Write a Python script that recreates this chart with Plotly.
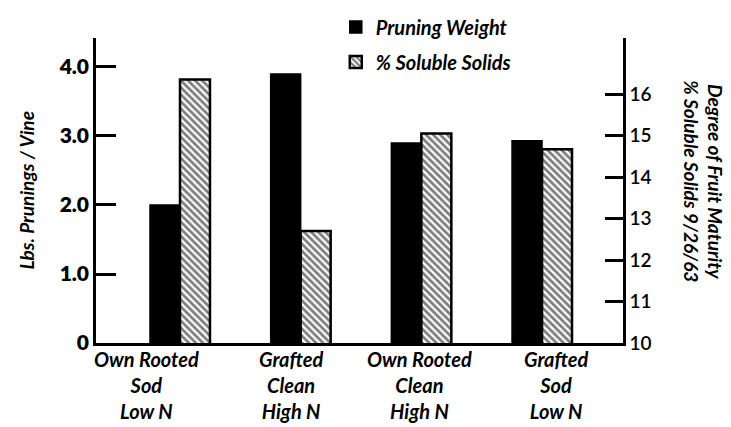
import plotly.graph_objects as go

categories = ["Own Rooted<br>Sod<br>Low N", "Grafted<br>Clean<br>High N",
              "Own Rooted<br>Clean<br>High N", "Grafted<br>Sod<br>Low N"]
pruning_weight = [2.0, 3.9, 2.9, 2.93]
soluble_solids = [16.35, 12.7, 15.05, 14.67]
left_ticks = [0, 1, 2, 3, 4]
left_ticklabels = ["0", "1.0", "2.0", "3.0", "4.0"]
right_ticks = [10, 11, 12, 13, 14, 15, 16]

FONT = "Lato"
cat_idx = list(range(len(categories)))

fig = go.Figure()
fig.add_trace(go.Bar(
    x=cat_idx, y=pruning_weight, name="Pruning Weight",
    marker=dict(color="black", line=dict(color="black", width=1.5)),
    offsetgroup="1", yaxis="y", legendgroup="a",
))
fig.add_trace(go.Bar(
    x=cat_idx, y=soluble_solids, name="% Soluble Solids",
    marker=dict(color="white", line=dict(color="black", width=2.5),
                pattern=dict(shape="\\", fgcolor="black", bgcolor="white",
                             size=5, solidity=0.55)),
    offsetgroup="2", yaxis="y2", legendgroup="b",
))

label_shifts = [-33, -10, -2, 14]
annotations = []
for i, (lab, sh) in enumerate(zip(categories, label_shifts)):
    annotations.append(dict(
        x=i, y=0, xref="x", yref="paper", yanchor="top", xanchor="center",
        yshift=-2, xshift=sh, text=lab, showarrow=False, align="center",
        font=dict(family=FONT, size=20, color="black", weight=700, style="italic"),
    ))
annotations.append(dict(
    x=0, xref="paper", y=0.5, yref="paper", xanchor="center", yanchor="middle",
    xshift=-70, text="Lbs. Prunings / Vine", textangle=-90, showarrow=False,
    font=dict(family=FONT, size=19, color="black", weight=700, style="italic"),
))
annotations.append(dict(
    x=1, xref="paper", y=0.53, yref="paper", xanchor="left", yanchor="middle",
    xshift=54, text="Degree of Fruit Maturity<br>% Soluble Solids 9/26/63",
    textangle=90, showarrow=False, align="center",
    font=dict(family=FONT, size=19, color="black", weight=700, style="italic"),
))

fig.update_layout(
    width=731, height=427,
    margin=dict(l=88, r=116, t=30, b=92, autoexpand=False),
    paper_bgcolor="white", plot_bgcolor="white",
    barmode="group", bargap=0.503, bargroupgap=0,
    showlegend=True,
    legend=dict(x=0.455, y=1.1, xanchor="left", yanchor="top",
                font=dict(family=FONT, size=20, color="black", weight=700, style="italic"),
                bgcolor="rgba(0,0,0,0)", tracegroupgap=6),
    xaxis=dict(range=[-0.696, 3.671], showticklabels=False, ticks="",
               showline=True, linecolor="black", linewidth=2.5, showgrid=False,
               zeroline=False, fixedrange=True),
    yaxis=dict(range=[0, 4.42], tickvals=left_ticks, ticktext=left_ticklabels,
               ticks="inside", ticklen=20, tickwidth=2.5, tickcolor="black",
               showline=True, linecolor="black", linewidth=2.5, showgrid=False,
               zeroline=False,
               tickfont=dict(family=FONT, size=21, color="black", weight=800)),
    yaxis2=dict(range=[10, 17.35], tickvals=right_ticks, overlaying="y", side="right",
                ticks="inside", ticklen=18, tickwidth=2.5, tickcolor="black",
                showline=True, linecolor="black", linewidth=2.5, showgrid=False,
                zeroline=False,
                tickfont=dict(family=FONT, size=19, color="black", weight=600)),
    annotations=annotations,
)

fig.write_html("out.html")
